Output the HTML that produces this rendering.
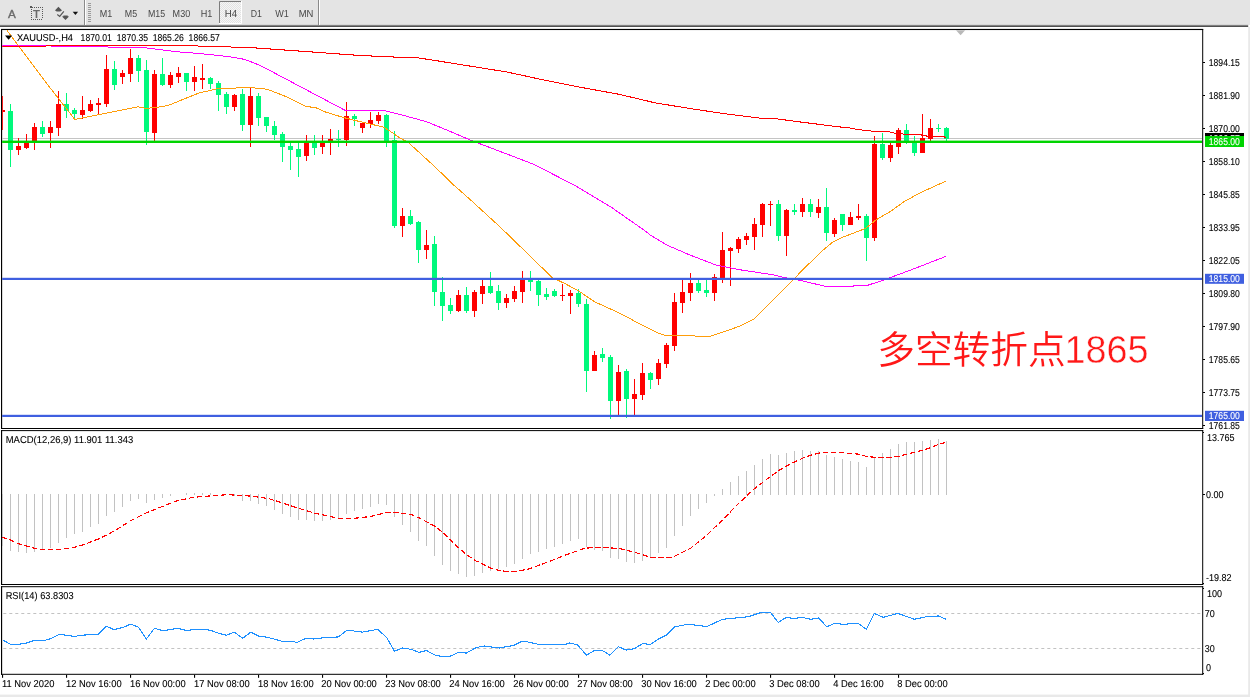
<!DOCTYPE html>
<html lang="zh"><head><meta charset="utf-8"><title>XAUUSD H4</title>
<style>html,body{margin:0;padding:0;background:#fff;overflow:hidden}svg{display:block}text{font-family:"Liberation Sans","Noto Sans CJK SC",sans-serif}.t,.ax,.tb{text-rendering:geometricPrecision}.t{font-size:9.3px;fill:#000;stroke:#000;stroke-width:0.1px}.ax{font-size:9.1px;fill:#000;stroke:#000;stroke-width:0.1px}.tb{font-size:9.6px;fill:#484848}.cn{font-family:"Liberation Sans","Noto Sans CJK SC",sans-serif;fill:#ff1818}</style></head><body>
<svg width="1250" height="697" viewBox="0 0 1250 697">
<rect x="0" y="0" width="1250" height="697" fill="#fff"/>
<defs><linearGradient id="tg" x1="0" y1="0" x2="0" y2="1"><stop offset="0" stop-color="#c4c4c4"/><stop offset="0.5" stop-color="#6a6a6a"/><stop offset="1" stop-color="#3c3c3c"/></linearGradient><clipPath id="cm"><rect x="2.15" y="30" width="1200" height="398"/></clipPath><pattern id="dz" width="2" height="2" patternUnits="userSpaceOnUse"><rect width="2" height="2" fill="#f6f6f6"/><rect width="1" height="1" fill="#e2e2e2"/><rect x="1" y="1" width="1" height="1" fill="#e2e2e2"/></pattern></defs>
<rect x="0" y="0" width="1250" height="25" fill="#e4e4e4"/>
<rect x="0" y="24.6" width="1248.2" height="2.4" fill="url(#tg)"/>
<rect x="1248.2" y="27" width="2" height="670" fill="#e9e9e9"/>
<rect x="0" y="694.6" width="1250" height="3" fill="#e9e9e9"/>
<text x="7.9" y="17.9" style="font-size:11.7px;fill:#6a6a6a;stroke:#6a6a6a;stroke-width:0.35px">A</text>
<g fill="#585858" shape-rendering="crispEdges"><rect x="34" y="7" width="1" height="1"/><rect x="36" y="7" width="1" height="1"/><rect x="38" y="7" width="1" height="1"/><rect x="40" y="7" width="1" height="1"/><rect x="42" y="7" width="1" height="1"/><rect x="31" y="19" width="1" height="1"/><rect x="33" y="19" width="1" height="1"/><rect x="35" y="19" width="1" height="1"/><rect x="37" y="19" width="1" height="1"/><rect x="39" y="19" width="1" height="1"/><rect x="41" y="19" width="1" height="1"/><rect x="31" y="9" width="1" height="1"/><rect x="31" y="11" width="1" height="1"/><rect x="31" y="13" width="1" height="1"/><rect x="31" y="15" width="1" height="1"/><rect x="31" y="17" width="1" height="1"/><rect x="42" y="9" width="1" height="1"/><rect x="42" y="11" width="1" height="1"/><rect x="42" y="13" width="1" height="1"/><rect x="42" y="15" width="1" height="1"/><rect x="42" y="17" width="1" height="1"/><rect x="30" y="6" width="2" height="2"/><rect x="32" y="7" width="1" height="1"/></g>
<text x="33.1" y="17.9" style="font-size:11.4px;font-weight:bold;fill:#6a6a6a">T</text>
<path d="M58.4 6.7 L62.1 10.4 L60.6 10.9 L60.6 11.6 L56.3 11.6 L56.3 10.9 L54.9 10.4 Z" fill="#555"/>
<path d="M63.4 15.4 L67.7 15.4 L67.7 16.2 L69 16.5 L65.5 20.1 L62 16.5 L63.4 16.2 Z" fill="#555"/>
<path d="M57.3 14.5 L59.7 16.4 L63.8 11.4" fill="none" stroke="#555" stroke-width="1.2"/>
<path d="M72.7 11.8 L78.1 11.8 L75.4 15.1 Z" fill="#111"/>
<rect x="84" y="0" width="1" height="25" fill="#8a8a8a"/><rect x="85" y="0" width="1" height="25" fill="#fff"/>
<rect x="88" y="3" width="3" height="1" fill="#9a9a9a"/>
<rect x="88" y="5" width="3" height="1" fill="#9a9a9a"/>
<rect x="88" y="7" width="3" height="1" fill="#9a9a9a"/>
<rect x="88" y="9" width="3" height="1" fill="#9a9a9a"/>
<rect x="88" y="11" width="3" height="1" fill="#9a9a9a"/>
<rect x="88" y="13" width="3" height="1" fill="#9a9a9a"/>
<rect x="88" y="15" width="3" height="1" fill="#9a9a9a"/>
<rect x="88" y="17" width="3" height="1" fill="#9a9a9a"/>
<rect x="88" y="19" width="3" height="1" fill="#9a9a9a"/>
<rect x="88" y="21" width="3" height="1" fill="#9a9a9a"/>
<rect x="219" y="1" width="22" height="22" fill="url(#dz)"/>
<path d="M219.5 23 L219.5 1.5 L241 1.5" fill="none" stroke="#7c7c7c" stroke-width="1"/>
<path d="M241.5 1 L241.5 23.5 L219 23.5" fill="none" stroke="#fff" stroke-width="1"/>
<text class="tb" x="99.70" y="17.20" textLength="12.50" lengthAdjust="spacingAndGlyphs" style="font-size:10.2px;">M1</text>
<text class="tb" x="124.80" y="17.20" textLength="12.30" lengthAdjust="spacingAndGlyphs" style="font-size:10.2px;">M5</text>
<text class="tb" x="148.00" y="17.20" textLength="17.20" lengthAdjust="spacingAndGlyphs" style="font-size:10.2px;">M15</text>
<text class="tb" x="172.60" y="17.20" textLength="17.60" lengthAdjust="spacingAndGlyphs" style="font-size:10.2px;">M30</text>
<text class="tb" x="200.80" y="17.20" textLength="11.60" lengthAdjust="spacingAndGlyphs" style="font-size:10.2px;">H1</text>
<text class="tb" x="224.80" y="17.20" textLength="12.40" lengthAdjust="spacingAndGlyphs" style="font-size:10.2px;">H4</text>
<text class="tb" x="250.80" y="17.20" textLength="11.20" lengthAdjust="spacingAndGlyphs" style="font-size:10.2px;">D1</text>
<text class="tb" x="275.30" y="17.20" textLength="13.60" lengthAdjust="spacingAndGlyphs" style="font-size:10.2px;">W1</text>
<text class="tb" x="298.70" y="17.20" textLength="14.70" lengthAdjust="spacingAndGlyphs" style="font-size:10.2px;">MN</text>
<rect x="318" y="0" width="1" height="25" fill="#8a8a8a"/><rect x="319" y="0" width="1" height="25" fill="#fff"/>
<rect x="1" y="28.9" width="1202.2" height="1.15" fill="#000"/>
<rect x="1" y="428" width="1202.2" height="1" fill="#000"/>
<rect x="1" y="430.1" width="1202.2" height="1" fill="#000"/>
<rect x="1" y="584" width="1202.2" height="1" fill="#000"/>
<rect x="1" y="586.2" width="1202.2" height="1" fill="#000"/>
<rect x="1" y="673.8" width="1202.2" height="1" fill="#000"/>
<rect x="1" y="29" width="1.15" height="400.0" fill="#000"/>
<rect x="1202.2" y="29" width="1" height="400.0" fill="#000"/>
<rect x="1" y="430.1" width="1.15" height="154.9" fill="#000"/>
<rect x="1202.2" y="430.1" width="1" height="154.9" fill="#000"/>
<rect x="1" y="586.2" width="1.15" height="88.6" fill="#000"/>
<rect x="1202.2" y="586.2" width="1" height="88.6" fill="#000"/>
<path d="M956 30.2 L965.2 30.2 L960.6 35.2 Z" fill="#b9b9b9"/>
<g clip-path="url(#cm)">
<rect x="2" y="138" width="1200" height="1" fill="#c4c4c4"/>
<g shape-rendering="crispEdges">
<rect x="2.1" y="96" width="1.1" height="34" fill="#ff0000"/><rect x="3" y="110" width="2.2" height="2" fill="#ff0000"/>
<rect x="10" y="103.8" width="1" height="63.0" fill="#00f97c"/>
<rect x="8" y="111.0" width="5" height="38.7" fill="#00f97c"/>
<rect x="18" y="137.9" width="1" height="16.8" fill="#ff0000"/>
<rect x="16" y="145.8" width="5" height="3.9" fill="#ff0000"/>
<rect x="26" y="134.0" width="1" height="14.8" fill="#ff0000"/>
<rect x="24" y="143.0" width="5" height="4.7" fill="#ff0000"/>
<rect x="34" y="123.1" width="1" height="26.6" fill="#ff0000"/>
<rect x="32" y="127.0" width="5" height="16.0" fill="#ff0000"/>
<rect x="42" y="121.1" width="1" height="15.6" fill="#00f97c"/>
<rect x="40" y="127.0" width="5" height="6.7" fill="#00f97c"/>
<rect x="50" y="121.1" width="1" height="26.9" fill="#ff0000"/>
<rect x="48" y="127.0" width="5" height="5.9" fill="#ff0000"/>
<rect x="58" y="91.2" width="1" height="44.5" fill="#ff0000"/>
<rect x="56" y="103.8" width="5" height="24.0" fill="#ff0000"/>
<rect x="66" y="93.1" width="1" height="24.7" fill="#00f97c"/>
<rect x="64" y="103.8" width="5" height="7.2" fill="#00f97c"/>
<rect x="74" y="108.0" width="1" height="11.4" fill="#00f97c"/>
<rect x="72" y="109.9" width="5" height="4.0" fill="#00f97c"/>
<rect x="82" y="95.9" width="1" height="23.2" fill="#ff0000"/>
<rect x="80" y="109.9" width="5" height="5.0" fill="#ff0000"/>
<rect x="90" y="100.1" width="1" height="11.8" fill="#ff0000"/>
<rect x="88" y="103.8" width="5" height="7.2" fill="#ff0000"/>
<rect x="98" y="98.1" width="1" height="15.8" fill="#ff0000"/>
<rect x="96" y="103.1" width="5" height="1.7" fill="#ff0000"/>
<rect x="106" y="55.1" width="1" height="51.7" fill="#ff0000"/>
<rect x="104" y="69.2" width="5" height="34.6" fill="#ff0000"/>
<rect x="114" y="61.1" width="1" height="28.8" fill="#00f97c"/>
<rect x="112" y="69.2" width="5" height="15.5" fill="#00f97c"/>
<rect x="122" y="70.1" width="1" height="13.4" fill="#ff0000"/>
<rect x="120" y="72.8" width="5" height="4.2" fill="#ff0000"/>
<rect x="130" y="49.1" width="1" height="32.7" fill="#ff0000"/>
<rect x="128" y="58.0" width="5" height="16.0" fill="#ff0000"/>
<rect x="138" y="55.1" width="1" height="26.7" fill="#00f97c"/>
<rect x="136" y="58.0" width="5" height="12.6" fill="#00f97c"/>
<rect x="146" y="59.9" width="1" height="84.7" fill="#00f97c"/>
<rect x="144" y="70.1" width="5" height="61.6" fill="#00f97c"/>
<rect x="154" y="70.1" width="1" height="71.2" fill="#ff0000"/>
<rect x="152" y="74.0" width="5" height="58.9" fill="#ff0000"/>
<rect x="162" y="58.0" width="1" height="27.6" fill="#00f97c"/>
<rect x="160" y="74.0" width="5" height="10.7" fill="#00f97c"/>
<rect x="170" y="71.8" width="1" height="16.0" fill="#ff0000"/>
<rect x="168" y="74.9" width="5" height="9.8" fill="#ff0000"/>
<rect x="178" y="66.8" width="1" height="15.8" fill="#ff0000"/>
<rect x="176" y="72.8" width="5" height="4.2" fill="#ff0000"/>
<rect x="186" y="72.8" width="1" height="17.9" fill="#00f97c"/>
<rect x="184" y="72.8" width="5" height="9.0" fill="#00f97c"/>
<rect x="194" y="65.8" width="1" height="24.9" fill="#ff0000"/>
<rect x="192" y="77.0" width="5" height="4.8" fill="#ff0000"/>
<rect x="202" y="64.0" width="1" height="24.7" fill="#ff0000"/>
<rect x="200" y="78.4" width="5" height="1.2" fill="#ff0000"/>
<rect x="210" y="76.6" width="1" height="12.1" fill="#00f97c"/>
<rect x="208" y="78.3" width="5" height="5.7" fill="#00f97c"/>
<rect x="218" y="80.8" width="1" height="29.8" fill="#00f97c"/>
<rect x="216" y="83.2" width="5" height="11.4" fill="#00f97c"/>
<rect x="226" y="92.1" width="1" height="21.8" fill="#00f97c"/>
<rect x="224" y="94.1" width="5" height="12.6" fill="#00f97c"/>
<rect x="234" y="93.8" width="1" height="16.8" fill="#ff0000"/>
<rect x="232" y="95.1" width="5" height="11.6" fill="#ff0000"/>
<rect x="242" y="88.7" width="1" height="42.0" fill="#00f97c"/>
<rect x="240" y="94.1" width="5" height="30.4" fill="#00f97c"/>
<rect x="250" y="87.5" width="1" height="59.2" fill="#ff0000"/>
<rect x="248" y="96.3" width="5" height="28.2" fill="#ff0000"/>
<rect x="258" y="92.9" width="1" height="32.8" fill="#00f97c"/>
<rect x="256" y="96.3" width="5" height="21.5" fill="#00f97c"/>
<rect x="266" y="117.0" width="1" height="14.9" fill="#00f97c"/>
<rect x="264" y="117.0" width="5" height="8.7" fill="#00f97c"/>
<rect x="274" y="121.2" width="1" height="18.3" fill="#00f97c"/>
<rect x="272" y="126.2" width="5" height="8.4" fill="#00f97c"/>
<rect x="282" y="131.9" width="1" height="29.7" fill="#00f97c"/>
<rect x="280" y="134.1" width="5" height="12.5" fill="#00f97c"/>
<rect x="290" y="142.0" width="1" height="27.5" fill="#00f97c"/>
<rect x="288" y="146.0" width="5" height="4.0" fill="#00f97c"/>
<rect x="298" y="142.5" width="1" height="34.2" fill="#00f97c"/>
<rect x="296" y="149.3" width="5" height="7.3" fill="#00f97c"/>
<rect x="306" y="135.0" width="1" height="25.8" fill="#ff0000"/>
<rect x="304" y="142.7" width="5" height="13.1" fill="#ff0000"/>
<rect x="314" y="135.0" width="1" height="19.6" fill="#00f97c"/>
<rect x="312" y="142.0" width="5" height="5.6" fill="#00f97c"/>
<rect x="322" y="135.0" width="1" height="18.8" fill="#ff0000"/>
<rect x="320" y="142.7" width="5" height="4.1" fill="#ff0000"/>
<rect x="330" y="129.1" width="1" height="25.7" fill="#ff0000"/>
<rect x="328" y="139.0" width="5" height="2.8" fill="#ff0000"/>
<rect x="338" y="130.3" width="1" height="16.5" fill="#00f97c"/>
<rect x="336" y="139.2" width="5" height="1.2" fill="#00f97c"/>
<rect x="346" y="102.2" width="1" height="43.8" fill="#ff0000"/>
<rect x="344" y="116.1" width="5" height="23.9" fill="#ff0000"/>
<rect x="354" y="113.9" width="1" height="11.8" fill="#00f97c"/>
<rect x="352" y="116.1" width="5" height="2.9" fill="#00f97c"/>
<rect x="362" y="122.3" width="1" height="10.4" fill="#ff0000"/>
<rect x="360" y="122.8" width="5" height="4.9" fill="#ff0000"/>
<rect x="370" y="112.2" width="1" height="15.5" fill="#ff0000"/>
<rect x="368" y="120.1" width="5" height="3.9" fill="#ff0000"/>
<rect x="378" y="112.2" width="1" height="11.5" fill="#ff0000"/>
<rect x="376" y="115.1" width="5" height="5.5" fill="#ff0000"/>
<rect x="386" y="113.9" width="1" height="32.9" fill="#00f97c"/>
<rect x="384" y="115.1" width="5" height="25.8" fill="#00f97c"/>
<rect x="394" y="131.1" width="1" height="96.7" fill="#00f97c"/>
<rect x="392" y="140.2" width="5" height="85.7" fill="#00f97c"/>
<rect x="402" y="208.1" width="1" height="28.5" fill="#ff0000"/>
<rect x="400" y="216.1" width="5" height="9.7" fill="#ff0000"/>
<rect x="410" y="210.1" width="1" height="14.7" fill="#00f97c"/>
<rect x="408" y="216.1" width="5" height="7.8" fill="#00f97c"/>
<rect x="418" y="221.0" width="1" height="41.7" fill="#00f97c"/>
<rect x="416" y="221.9" width="5" height="28.5" fill="#00f97c"/>
<rect x="426" y="230.2" width="1" height="28.6" fill="#ff0000"/>
<rect x="424" y="245.0" width="5" height="5.4" fill="#ff0000"/>
<rect x="434" y="236.1" width="1" height="69.9" fill="#00f97c"/>
<rect x="432" y="244.0" width="5" height="48.4" fill="#00f97c"/>
<rect x="442" y="277.0" width="1" height="43.7" fill="#00f97c"/>
<rect x="440" y="292.0" width="5" height="14.0" fill="#00f97c"/>
<rect x="450" y="298.2" width="1" height="15.6" fill="#00f97c"/>
<rect x="448" y="305.0" width="5" height="6.0" fill="#00f97c"/>
<rect x="458" y="290.2" width="1" height="21.6" fill="#ff0000"/>
<rect x="456" y="295.0" width="5" height="16.0" fill="#ff0000"/>
<rect x="466" y="287.0" width="1" height="25.7" fill="#00f97c"/>
<rect x="464" y="295.0" width="5" height="16.0" fill="#00f97c"/>
<rect x="474" y="290.2" width="1" height="26.7" fill="#ff0000"/>
<rect x="472" y="292.0" width="5" height="19.0" fill="#ff0000"/>
<rect x="482" y="280.3" width="1" height="23.5" fill="#ff0000"/>
<rect x="480" y="286.2" width="5" height="7.4" fill="#ff0000"/>
<rect x="490" y="272.2" width="1" height="21.4" fill="#00f97c"/>
<rect x="488" y="286.2" width="5" height="6.6" fill="#00f97c"/>
<rect x="498" y="285.3" width="1" height="24.5" fill="#00f97c"/>
<rect x="496" y="291.0" width="5" height="11.5" fill="#00f97c"/>
<rect x="506" y="294.1" width="1" height="13.4" fill="#ff0000"/>
<rect x="504" y="298.0" width="5" height="4.5" fill="#ff0000"/>
<rect x="514" y="286.2" width="1" height="15.5" fill="#ff0000"/>
<rect x="512" y="291.1" width="5" height="7.5" fill="#ff0000"/>
<rect x="522" y="271.1" width="1" height="31.4" fill="#ff0000"/>
<rect x="520" y="279.8" width="5" height="11.8" fill="#ff0000"/>
<rect x="530" y="271.1" width="1" height="19.6" fill="#00f97c"/>
<rect x="528" y="279.8" width="5" height="2.0" fill="#00f97c"/>
<rect x="538" y="279.8" width="1" height="26.1" fill="#00f97c"/>
<rect x="536" y="281.2" width="5" height="13.4" fill="#00f97c"/>
<rect x="546" y="288.2" width="1" height="11.5" fill="#00f97c"/>
<rect x="544" y="294.1" width="5" height="2.9" fill="#00f97c"/>
<rect x="554" y="289.0" width="1" height="7.9" fill="#00f97c"/>
<rect x="552" y="291.2" width="5" height="4.6" fill="#00f97c"/>
<rect x="562" y="283.5" width="1" height="17.3" fill="#ff0000"/>
<rect x="560" y="295.0" width="5" height="1.2" fill="#ff0000"/>
<rect x="570" y="290.2" width="1" height="23.6" fill="#ff0000"/>
<rect x="568" y="293.1" width="5" height="2.7" fill="#ff0000"/>
<rect x="578" y="289.0" width="1" height="17.8" fill="#00f97c"/>
<rect x="576" y="292.5" width="5" height="11.1" fill="#00f97c"/>
<rect x="586" y="299.1" width="1" height="92.9" fill="#00f97c"/>
<rect x="584" y="304.2" width="5" height="66.3" fill="#00f97c"/>
<rect x="594" y="351.0" width="1" height="19.7" fill="#ff0000"/>
<rect x="592" y="355.1" width="5" height="15.6" fill="#ff0000"/>
<rect x="602" y="348.2" width="1" height="13.6" fill="#00f97c"/>
<rect x="600" y="353.9" width="5" height="3.9" fill="#00f97c"/>
<rect x="610" y="355.0" width="1" height="63.7" fill="#00f97c"/>
<rect x="608" y="357.0" width="5" height="43.8" fill="#00f97c"/>
<rect x="618" y="365.1" width="1" height="50.2" fill="#ff0000"/>
<rect x="616" y="372.0" width="5" height="28.8" fill="#ff0000"/>
<rect x="626" y="368.8" width="1" height="49.0" fill="#00f97c"/>
<rect x="624" y="371.0" width="5" height="27.5" fill="#00f97c"/>
<rect x="634" y="379.2" width="1" height="36.1" fill="#ff0000"/>
<rect x="632" y="394.0" width="5" height="4.5" fill="#ff0000"/>
<rect x="642" y="363.2" width="1" height="36.6" fill="#ff0000"/>
<rect x="640" y="373.0" width="5" height="21.8" fill="#ff0000"/>
<rect x="650" y="372.1" width="1" height="16.8" fill="#00f97c"/>
<rect x="648" y="373.0" width="5" height="6.7" fill="#00f97c"/>
<rect x="658" y="359.2" width="1" height="25.5" fill="#ff0000"/>
<rect x="656" y="363.2" width="5" height="15.6" fill="#ff0000"/>
<rect x="666" y="343.1" width="1" height="24.8" fill="#ff0000"/>
<rect x="664" y="344.9" width="5" height="18.8" fill="#ff0000"/>
<rect x="674" y="293.0" width="1" height="57.9" fill="#ff0000"/>
<rect x="672" y="301.9" width="5" height="43.7" fill="#ff0000"/>
<rect x="682" y="279.0" width="1" height="33.8" fill="#ff0000"/>
<rect x="680" y="292.1" width="5" height="10.6" fill="#ff0000"/>
<rect x="690" y="273.1" width="1" height="27.8" fill="#ff0000"/>
<rect x="688" y="282.9" width="5" height="10.1" fill="#ff0000"/>
<rect x="698" y="279.5" width="1" height="13.5" fill="#00f97c"/>
<rect x="696" y="282.9" width="5" height="8.1" fill="#00f97c"/>
<rect x="706" y="279.5" width="1" height="17.3" fill="#00f97c"/>
<rect x="704" y="290.1" width="5" height="2.9" fill="#00f97c"/>
<rect x="714" y="274.0" width="1" height="26.9" fill="#ff0000"/>
<rect x="712" y="277.0" width="5" height="16.0" fill="#ff0000"/>
<rect x="722" y="232.2" width="1" height="50.6" fill="#ff0000"/>
<rect x="720" y="250.0" width="5" height="29.0" fill="#ff0000"/>
<rect x="730" y="247.0" width="1" height="38.5" fill="#ff0000"/>
<rect x="728" y="248.0" width="5" height="2.8" fill="#ff0000"/>
<rect x="738" y="237.1" width="1" height="15.6" fill="#ff0000"/>
<rect x="736" y="239.0" width="5" height="9.7" fill="#ff0000"/>
<rect x="746" y="233.0" width="1" height="11.8" fill="#ff0000"/>
<rect x="744" y="236.0" width="5" height="3.7" fill="#ff0000"/>
<rect x="754" y="218.2" width="1" height="31.6" fill="#ff0000"/>
<rect x="752" y="224.1" width="5" height="12.6" fill="#ff0000"/>
<rect x="762" y="203.1" width="1" height="33.6" fill="#ff0000"/>
<rect x="760" y="204.1" width="5" height="20.5" fill="#ff0000"/>
<rect x="770" y="201.1" width="1" height="24.7" fill="#ff0000"/>
<rect x="768" y="203.6" width="5" height="1.4" fill="#ff0000"/>
<rect x="778" y="200.2" width="1" height="40.4" fill="#00f97c"/>
<rect x="776" y="204.1" width="5" height="31.4" fill="#00f97c"/>
<rect x="786" y="209.1" width="1" height="46.6" fill="#ff0000"/>
<rect x="784" y="210.0" width="5" height="25.5" fill="#ff0000"/>
<rect x="794" y="204.1" width="1" height="10.8" fill="#00f97c"/>
<rect x="792" y="210.0" width="5" height="1.7" fill="#00f97c"/>
<rect x="802" y="198.1" width="1" height="18.6" fill="#ff0000"/>
<rect x="800" y="204.1" width="5" height="7.6" fill="#ff0000"/>
<rect x="810" y="199.1" width="1" height="17.6" fill="#00f97c"/>
<rect x="808" y="204.1" width="5" height="7.6" fill="#00f97c"/>
<rect x="818" y="199.1" width="1" height="18.8" fill="#ff0000"/>
<rect x="816" y="207.3" width="5" height="5.5" fill="#ff0000"/>
<rect x="826" y="188.1" width="1" height="52.5" fill="#00f97c"/>
<rect x="824" y="207.0" width="5" height="25.7" fill="#00f97c"/>
<rect x="834" y="218.2" width="1" height="18.5" fill="#ff0000"/>
<rect x="832" y="220.1" width="5" height="13.7" fill="#ff0000"/>
<rect x="842" y="214.0" width="1" height="16.8" fill="#00f97c"/>
<rect x="840" y="214.0" width="5" height="10.7" fill="#00f97c"/>
<rect x="850" y="212.0" width="1" height="12.7" fill="#ff0000"/>
<rect x="848" y="217.0" width="5" height="7.7" fill="#ff0000"/>
<rect x="858" y="204.0" width="1" height="16.0" fill="#ff0000"/>
<rect x="856" y="215.9" width="5" height="1.9" fill="#ff0000"/>
<rect x="866" y="214.0" width="1" height="46.6" fill="#00f97c"/>
<rect x="864" y="215.9" width="5" height="21.7" fill="#00f97c"/>
<rect x="874" y="135.8" width="1" height="104.9" fill="#ff0000"/>
<rect x="872" y="144.1" width="5" height="93.5" fill="#ff0000"/>
<rect x="882" y="133.1" width="1" height="26.6" fill="#00f97c"/>
<rect x="880" y="144.1" width="5" height="13.9" fill="#00f97c"/>
<rect x="890" y="143.2" width="1" height="18.7" fill="#ff0000"/>
<rect x="888" y="144.9" width="5" height="12.8" fill="#ff0000"/>
<rect x="898" y="128.1" width="1" height="25.7" fill="#ff0000"/>
<rect x="896" y="129.9" width="5" height="16.8" fill="#ff0000"/>
<rect x="906" y="124.1" width="1" height="19.6" fill="#00f97c"/>
<rect x="904" y="129.9" width="5" height="11.3" fill="#00f97c"/>
<rect x="914" y="135.8" width="1" height="20.0" fill="#00f97c"/>
<rect x="912" y="142.9" width="5" height="9.7" fill="#00f97c"/>
<rect x="922" y="114.0" width="1" height="39.0" fill="#ff0000"/>
<rect x="920" y="138.2" width="5" height="14.8" fill="#ff0000"/>
<rect x="930" y="119.0" width="1" height="21.7" fill="#ff0000"/>
<rect x="928" y="128.1" width="5" height="10.6" fill="#ff0000"/>
<rect x="938" y="124.1" width="1" height="7.5" fill="#00f97c"/>
<rect x="936" y="128.1" width="5" height="1.2" fill="#00f97c"/>
<rect x="946" y="126.9" width="1" height="13.8" fill="#00f97c"/>
<rect x="944" y="128.1" width="5" height="10.6" fill="#00f97c"/>
</g>
<polyline points="2.0,45.5 40.0,45.5 60.0,46.4 95.0,46.9 142.0,47.3 160.8,49.8 177.6,51.8 199.5,53.5 228.0,56.5 244.8,59.4 258.0,64.6 270.0,70.6 346.2,110.9 349.5,110.2 382.3,110.2 400.0,114.5 410.0,117.2 426.5,121.7 448.0,130.5 470.6,140.2 533.8,164.3 576.0,186.1 611.2,207.2 646.4,231.8 650.1,235.0 666.9,245.1 690.4,255.2 715.6,264.9 740.8,269.9 774.4,275.0 784.0,277.5 796.2,279.5 824.8,286.2 853.4,286.4 854.3,285.3 867.7,285.3 883.7,280.0 910.0,270.3 945.8,256.4" fill="none" stroke="#ff00ff" stroke-width="1.0" stroke-linejoin="round" shape-rendering="crispEdges" />
<polyline points="3.0,25.0 6.9,30.2 47.9,85.0 74.8,119.4 137.8,106.8 146.2,108.5 163.0,106.5 169.7,104.8 200.0,92.6 210.0,90.5 216.8,88.7 250.4,87.5 267.2,89.2 287.4,97.1 305.8,106.4 315.9,107.7 326.0,112.2 342.8,117.3 354.6,120.3 368.0,123.5 383.1,127.0 388.2,129.9 400.0,138.0 408.8,142.9 419.4,152.6 436.2,168.0 453.2,184.6 470.7,200.0 501.8,228.6 552.2,277.6 564.8,283.5 578.3,290.7 594.7,301.8 613.2,310.2 630.0,318.6 637.2,322.6 659.0,333.5 665.8,335.5 694.3,335.5 696.0,336.5 709.4,336.5 721.2,332.6 738.0,326.8 748.1,322.1 754.2,319.0 766.0,307.2 796.2,277.0 799.6,272.8 823.1,250.1 833.2,241.7 842.8,237.2 865.5,228.5 876.4,219.6 890.4,211.5 903.8,201.8 920.6,192.6 945.8,181.2" fill="none" stroke="#ff9d0a" stroke-width="1.0" stroke-linejoin="round" shape-rendering="crispEdges" />
<polyline points="2.0,46.5 45.0,46.5 47.0,45.6 197.0,45.6 200.0,46.7 230.0,46.8 233.0,47.7 255.0,47.9 304.0,51.4 360.0,55.5 400.0,57.3 415.0,57.4 435.3,60.5 470.6,66.2 505.9,71.8 541.1,79.4 576.4,86.5 620.0,94.5 655.3,102.9 690.6,108.6 725.9,113.9 761.1,118.3 773.5,118.4 796.4,121.5 840.0,127.0 846.7,127.3 856.8,129.4 871.9,131.1 887.0,131.4 895.4,133.3 903.8,134.1 919.0,134.5 927.4,136.2 942.5,136.5 945.8,137.3" fill="none" stroke="#ff0000" stroke-width="1.05" stroke-linejoin="round" shape-rendering="crispEdges" />
<rect x="2" y="140.6" width="1200" height="2.4" fill="#00d400"/>
<rect x="2" y="277.8" width="1200" height="2.2" fill="#3f5fe0"/>
<rect x="2" y="414.8" width="1200" height="2.2" fill="#3f5fe0"/>
</g>
<text class="cn" x="877.2" y="363.2" style="font-size:37.7px;font-weight:350">多空转折点</text>
<text class="cn" x="1064.6" y="362.9" style="font-size:38.2px;stroke:#fff;stroke-width:0.45px;paint-order:fill stroke" textLength="84" lengthAdjust="spacingAndGlyphs">1865</text>
<path d="M5 35.5 L12.2 35.5 L8.6 39.8 Z" fill="#000"/>
<text class="t" x="16.90" y="41.20" textLength="56.10" lengthAdjust="spacingAndGlyphs" style="font-size:10.0px;">XAUUSD-,H4</text>
<text class="t" x="80.60" y="41.20" textLength="31.20" lengthAdjust="spacingAndGlyphs" style="font-size:10.0px;">1870.01</text>
<text class="t" x="116.80" y="41.20" textLength="31.20" lengthAdjust="spacingAndGlyphs" style="font-size:10.0px;">1870.35</text>
<text class="t" x="152.70" y="41.20" textLength="31.20" lengthAdjust="spacingAndGlyphs" style="font-size:10.0px;">1865.26</text>
<text class="t" x="188.60" y="41.20" textLength="31.20" lengthAdjust="spacingAndGlyphs" style="font-size:10.0px;">1866.57</text>
<rect x="1203" y="62" width="2" height="1" fill="#000"/>
<text class="ax" x="1208.80" y="66.00" textLength="31.10" lengthAdjust="spacingAndGlyphs" style="font-size:10.0px;">1894.15</text>
<rect x="1203" y="95" width="2" height="1" fill="#000"/>
<text class="ax" x="1208.80" y="99.00" textLength="31.10" lengthAdjust="spacingAndGlyphs" style="font-size:10.0px;">1881.90</text>
<rect x="1203" y="128" width="2" height="1" fill="#000"/>
<text class="ax" x="1208.80" y="132.00" textLength="31.10" lengthAdjust="spacingAndGlyphs" style="font-size:10.0px;">1870.00</text>
<rect x="1203" y="161" width="2" height="1" fill="#000"/>
<text class="ax" x="1208.80" y="165.00" textLength="31.10" lengthAdjust="spacingAndGlyphs" style="font-size:10.0px;">1858.10</text>
<rect x="1203" y="194" width="2" height="1" fill="#000"/>
<text class="ax" x="1208.80" y="198.00" textLength="31.10" lengthAdjust="spacingAndGlyphs" style="font-size:10.0px;">1845.85</text>
<rect x="1203" y="227" width="2" height="1" fill="#000"/>
<text class="ax" x="1208.80" y="231.00" textLength="31.10" lengthAdjust="spacingAndGlyphs" style="font-size:10.0px;">1833.95</text>
<rect x="1203" y="260" width="2" height="1" fill="#000"/>
<text class="ax" x="1208.80" y="264.00" textLength="31.10" lengthAdjust="spacingAndGlyphs" style="font-size:10.0px;">1822.05</text>
<rect x="1203" y="293" width="2" height="1" fill="#000"/>
<text class="ax" x="1208.80" y="297.00" textLength="31.10" lengthAdjust="spacingAndGlyphs" style="font-size:10.0px;">1809.80</text>
<rect x="1203" y="326" width="2" height="1" fill="#000"/>
<text class="ax" x="1208.80" y="330.00" textLength="31.10" lengthAdjust="spacingAndGlyphs" style="font-size:10.0px;">1797.90</text>
<rect x="1203" y="359" width="2" height="1" fill="#000"/>
<text class="ax" x="1208.80" y="363.00" textLength="31.10" lengthAdjust="spacingAndGlyphs" style="font-size:10.0px;">1785.65</text>
<rect x="1203" y="392" width="2" height="1" fill="#000"/>
<text class="ax" x="1208.80" y="396.00" textLength="31.10" lengthAdjust="spacingAndGlyphs" style="font-size:10.0px;">1773.75</text>
<rect x="1203" y="425" width="2" height="1" fill="#000"/>
<text class="ax" x="1208.80" y="429.00" textLength="31.10" lengthAdjust="spacingAndGlyphs" style="font-size:10.0px;">1761.85</text>
<rect x="1205" y="133" width="39" height="11" fill="#000"/>
<text class="ax" x="1208.80" y="142.00" textLength="31.10" lengthAdjust="spacingAndGlyphs" style="font-size:10.0px;fill:#fff;stroke:#fff">1866.57</text>
<rect x="1205" y="136" width="39" height="11" fill="#00d400"/>
<text class="ax" x="1208.80" y="144.90" textLength="31.10" lengthAdjust="spacingAndGlyphs" style="font-size:10.0px;fill:#fff;stroke:#fff">1865.00</text>
<rect x="1205" y="273.8" width="39" height="10" fill="#3f5fe0"/>
<text class="ax" x="1208.80" y="282.20" textLength="31.10" lengthAdjust="spacingAndGlyphs" style="font-size:10.0px;fill:#fff;stroke:#fff">1815.00</text>
<rect x="1205" y="410.8" width="39" height="10.2" fill="#3f5fe0"/>
<text class="ax" x="1208.80" y="419.20" textLength="31.10" lengthAdjust="spacingAndGlyphs" style="font-size:10.0px;fill:#fff;stroke:#fff">1765.00</text>
<g shape-rendering="crispEdges">
<rect x="2.15" y="494.0" width="1" height="51.6" fill="#c2c2c2"/>
<rect x="10" y="494.0" width="1" height="56.8" fill="#c2c2c2"/>
<rect x="18" y="494.0" width="1" height="58.3" fill="#c2c2c2"/>
<rect x="26" y="494.0" width="1" height="59.4" fill="#c2c2c2"/>
<rect x="34" y="494.0" width="1" height="57.7" fill="#c2c2c2"/>
<rect x="42" y="494.0" width="1" height="56.1" fill="#c2c2c2"/>
<rect x="50" y="494.0" width="1" height="53.8" fill="#c2c2c2"/>
<rect x="58" y="494.0" width="1" height="48.7" fill="#c2c2c2"/>
<rect x="66" y="494.0" width="1" height="43.8" fill="#c2c2c2"/>
<rect x="74" y="494.0" width="1" height="40.4" fill="#c2c2c2"/>
<rect x="82" y="494.0" width="1" height="37.5" fill="#c2c2c2"/>
<rect x="90" y="494.0" width="1" height="33.2" fill="#c2c2c2"/>
<rect x="98" y="494.0" width="1" height="29.7" fill="#c2c2c2"/>
<rect x="106" y="494.0" width="1" height="21.8" fill="#c2c2c2"/>
<rect x="114" y="494.0" width="1" height="18.0" fill="#c2c2c2"/>
<rect x="122" y="494.0" width="1" height="12.9" fill="#c2c2c2"/>
<rect x="130" y="494.0" width="1" height="6.8" fill="#c2c2c2"/>
<rect x="138" y="494.0" width="1" height="5.2" fill="#c2c2c2"/>
<rect x="146" y="494.0" width="1" height="9.0" fill="#c2c2c2"/>
<rect x="154" y="494.0" width="1" height="6.1" fill="#c2c2c2"/>
<rect x="162" y="494.0" width="1" height="3.9" fill="#c2c2c2"/>
<rect x="170" y="494.0" width="1" height="1.9" fill="#c2c2c2"/>
<rect x="186" y="493.0" width="1" height="2.0" fill="#c2c2c2"/>
<rect x="194" y="492.5" width="1" height="2.5" fill="#c2c2c2"/>
<rect x="202" y="492.5" width="1" height="2.5" fill="#c2c2c2"/>
<rect x="210" y="493.0" width="1" height="2.0" fill="#c2c2c2"/>
<rect x="234" y="494.0" width="1" height="2.3" fill="#c2c2c2"/>
<rect x="242" y="494.0" width="1" height="6.8" fill="#c2c2c2"/>
<rect x="250" y="494.0" width="1" height="6.8" fill="#c2c2c2"/>
<rect x="258" y="494.0" width="1" height="9.7" fill="#c2c2c2"/>
<rect x="266" y="494.0" width="1" height="12.0" fill="#c2c2c2"/>
<rect x="274" y="494.0" width="1" height="15.8" fill="#c2c2c2"/>
<rect x="282" y="494.0" width="1" height="19.6" fill="#c2c2c2"/>
<rect x="290" y="494.0" width="1" height="22.9" fill="#c2c2c2"/>
<rect x="298" y="494.0" width="1" height="25.8" fill="#c2c2c2"/>
<rect x="306" y="494.0" width="1" height="25.8" fill="#c2c2c2"/>
<rect x="314" y="494.0" width="1" height="27.0" fill="#c2c2c2"/>
<rect x="322" y="494.0" width="1" height="27.0" fill="#c2c2c2"/>
<rect x="330" y="494.0" width="1" height="25.8" fill="#c2c2c2"/>
<rect x="338" y="494.0" width="1" height="24.7" fill="#c2c2c2"/>
<rect x="346" y="494.0" width="1" height="19.6" fill="#c2c2c2"/>
<rect x="354" y="494.0" width="1" height="16.9" fill="#c2c2c2"/>
<rect x="362" y="494.0" width="1" height="14.6" fill="#c2c2c2"/>
<rect x="370" y="494.0" width="1" height="12.9" fill="#c2c2c2"/>
<rect x="378" y="494.0" width="1" height="9.7" fill="#c2c2c2"/>
<rect x="386" y="494.0" width="1" height="10.6" fill="#c2c2c2"/>
<rect x="394" y="494.0" width="1" height="22.9" fill="#c2c2c2"/>
<rect x="402" y="494.0" width="1" height="30.8" fill="#c2c2c2"/>
<rect x="410" y="494.0" width="1" height="37.7" fill="#c2c2c2"/>
<rect x="418" y="494.0" width="1" height="46.7" fill="#c2c2c2"/>
<rect x="426" y="494.0" width="1" height="51.6" fill="#c2c2c2"/>
<rect x="434" y="494.0" width="1" height="61.7" fill="#c2c2c2"/>
<rect x="442" y="494.0" width="1" height="70.6" fill="#c2c2c2"/>
<rect x="450" y="494.0" width="1" height="76.7" fill="#c2c2c2"/>
<rect x="458" y="494.0" width="1" height="79.6" fill="#c2c2c2"/>
<rect x="466" y="494.0" width="1" height="82.5" fill="#c2c2c2"/>
<rect x="474" y="494.0" width="1" height="81.9" fill="#c2c2c2"/>
<rect x="482" y="494.0" width="1" height="78.5" fill="#c2c2c2"/>
<rect x="490" y="494.0" width="1" height="76.7" fill="#c2c2c2"/>
<rect x="498" y="494.0" width="1" height="75.1" fill="#c2c2c2"/>
<rect x="506" y="494.0" width="1" height="72.9" fill="#c2c2c2"/>
<rect x="514" y="494.0" width="1" height="69.5" fill="#c2c2c2"/>
<rect x="522" y="494.0" width="1" height="64.6" fill="#c2c2c2"/>
<rect x="530" y="494.0" width="1" height="59.9" fill="#c2c2c2"/>
<rect x="538" y="494.0" width="1" height="57.7" fill="#c2c2c2"/>
<rect x="546" y="494.0" width="1" height="55.0" fill="#c2c2c2"/>
<rect x="554" y="494.0" width="1" height="52.7" fill="#c2c2c2"/>
<rect x="562" y="494.0" width="1" height="50.0" fill="#c2c2c2"/>
<rect x="570" y="494.0" width="1" height="46.7" fill="#c2c2c2"/>
<rect x="578" y="494.0" width="1" height="44.9" fill="#c2c2c2"/>
<rect x="586" y="494.0" width="1" height="52.7" fill="#c2c2c2"/>
<rect x="594" y="494.0" width="1" height="56.1" fill="#c2c2c2"/>
<rect x="602" y="494.0" width="1" height="56.8" fill="#c2c2c2"/>
<rect x="610" y="494.0" width="1" height="63.9" fill="#c2c2c2"/>
<rect x="618" y="494.0" width="1" height="65.0" fill="#c2c2c2"/>
<rect x="626" y="494.0" width="1" height="67.7" fill="#c2c2c2"/>
<rect x="634" y="494.0" width="1" height="68.9" fill="#c2c2c2"/>
<rect x="642" y="494.0" width="1" height="66.8" fill="#c2c2c2"/>
<rect x="650" y="494.0" width="1" height="62.8" fill="#c2c2c2"/>
<rect x="658" y="494.0" width="1" height="59.4" fill="#c2c2c2"/>
<rect x="666" y="494.0" width="1" height="53.8" fill="#c2c2c2"/>
<rect x="674" y="494.0" width="1" height="41.5" fill="#c2c2c2"/>
<rect x="682" y="494.0" width="1" height="31.9" fill="#c2c2c2"/>
<rect x="690" y="494.0" width="1" height="21.8" fill="#c2c2c2"/>
<rect x="698" y="494.0" width="1" height="14.6" fill="#c2c2c2"/>
<rect x="706" y="494.0" width="1" height="9.0" fill="#c2c2c2"/>
<rect x="714" y="494.0" width="1" height="2.3" fill="#c2c2c2"/>
<rect x="722" y="488.9" width="1" height="6.1" fill="#c2c2c2"/>
<rect x="730" y="481.8" width="1" height="13.2" fill="#c2c2c2"/>
<rect x="738" y="475.7" width="1" height="19.3" fill="#c2c2c2"/>
<rect x="746" y="471.0" width="1" height="24.0" fill="#c2c2c2"/>
<rect x="754" y="465.0" width="1" height="30.0" fill="#c2c2c2"/>
<rect x="762" y="458.9" width="1" height="36.1" fill="#c2c2c2"/>
<rect x="770" y="453.8" width="1" height="41.2" fill="#c2c2c2"/>
<rect x="778" y="454.9" width="1" height="40.1" fill="#c2c2c2"/>
<rect x="786" y="452.6" width="1" height="42.4" fill="#c2c2c2"/>
<rect x="794" y="450.8" width="1" height="44.2" fill="#c2c2c2"/>
<rect x="802" y="450.0" width="1" height="45.0" fill="#c2c2c2"/>
<rect x="810" y="450.8" width="1" height="44.2" fill="#c2c2c2"/>
<rect x="818" y="450.8" width="1" height="44.2" fill="#c2c2c2"/>
<rect x="826" y="454.9" width="1" height="40.1" fill="#c2c2c2"/>
<rect x="834" y="457.1" width="1" height="37.9" fill="#c2c2c2"/>
<rect x="842" y="458.9" width="1" height="36.1" fill="#c2c2c2"/>
<rect x="850" y="460.9" width="1" height="34.1" fill="#c2c2c2"/>
<rect x="858" y="462.0" width="1" height="33.0" fill="#c2c2c2"/>
<rect x="866" y="466.8" width="1" height="28.2" fill="#c2c2c2"/>
<rect x="874" y="457.8" width="1" height="37.2" fill="#c2c2c2"/>
<rect x="882" y="452.6" width="1" height="42.4" fill="#c2c2c2"/>
<rect x="890" y="448.8" width="1" height="46.2" fill="#c2c2c2"/>
<rect x="898" y="443.7" width="1" height="51.3" fill="#c2c2c2"/>
<rect x="906" y="441.9" width="1" height="53.1" fill="#c2c2c2"/>
<rect x="914" y="441.9" width="1" height="53.1" fill="#c2c2c2"/>
<rect x="922" y="441.0" width="1" height="54.0" fill="#c2c2c2"/>
<rect x="930" y="439.9" width="1" height="55.1" fill="#c2c2c2"/>
<rect x="938" y="438.8" width="1" height="56.2" fill="#c2c2c2"/>
<rect x="946" y="441.0" width="1" height="54.0" fill="#c2c2c2"/>
</g>
<polyline points="2.2,537.1 10.5,540.0 18.6,543.8 26.4,546.0 34.7,548.3 42.6,549.4 58.2,549.4 73.9,547.4 82.9,544.9 98.6,538.9 114.2,531.0 130.0,521.0 145.6,513.1 161.3,506.9 177.0,500.8 192.7,497.4 210.6,495.9 226.3,494.8 242.0,495.2 257.6,497.0 268.8,498.6 282.5,503.0 298.5,508.2 314.4,513.1 330.5,516.5 338.5,518.3 354.5,518.3 370.6,516.5 386.5,512.5 394.6,512.5 410.5,514.2 418.5,517.6 434.4,525.9 442.5,532.2 458.6,547.8 466.5,554.6 474.5,560.2 490.7,568.0 498.5,570.2 506.6,571.4 514.6,571.4 522.5,570.2 530.5,568.5 538.6,565.3 548.9,561.7 562.4,556.1 584.8,548.3 594.4,547.4 618.4,548.3 634.5,552.3 642.6,554.6 650.4,557.3 669.9,557.3 674.4,556.4 690.5,548.3 706.4,535.5 722.6,519.8 738.5,503.5 754.6,488.5 770.5,476.5 778.6,470.6 786.4,466.1 794.5,462.1 802.6,458.2 810.4,455.3 818.5,453.1 834.6,452.2 850.5,453.3 858.6,454.2 866.4,456.4 874.5,457.3 890.6,457.3 898.4,456.4 906.5,454.2 914.6,452.2 922.4,450.4 930.5,447.7 938.5,444.4 946.6,442.1" fill="none" stroke="#ff0000" stroke-width="1.15" stroke-linejoin="round" shape-rendering="crispEdges" stroke-dasharray="5.4 2.6" stroke-dashoffset="0.4"/>
<text class="t" x="5.70" y="442.60" textLength="127.60" lengthAdjust="spacingAndGlyphs" style="font-size:10.0px;">MACD(12,26,9) 11.901 11.343</text>
<rect x="1203" y="432.0" width="1" height="1" fill="#000"/>
<text class="t" x="1206.90" y="440.90" textLength="27.53" lengthAdjust="spacingAndGlyphs" style="font-size:10.0px;">13.765</text>
<rect x="1203" y="494.0" width="2" height="1" fill="#000"/>
<text class="t" x="1206.00" y="498.10" textLength="17.52" lengthAdjust="spacingAndGlyphs" style="font-size:10.0px;">0.00</text>
<rect x="1203" y="583.0" width="1" height="1" fill="#000"/>
<text class="t" x="1205.90" y="580.80" textLength="25.52" lengthAdjust="spacingAndGlyphs" style="font-size:10.0px;">-19.82</text>
<path d="M2 613.5 H1202 M2 648.5 H1202" stroke="#c2c2c2" stroke-width="1" stroke-dasharray="3 3" stroke-dashoffset="-1.3" fill="none"/>
<polyline points="2.6,639.8 10.2,644.2 19.2,644.2 26.9,642.9 34.6,640.3 44.8,640.3 51.2,638.5 58.9,634.4 66.6,635.2 74.2,636.5 81.9,635.2 98.6,634.2 106.2,626.2 113.9,629.6 122.9,627.5 130.6,624.2 138.2,627.0 146.4,639.0 154.4,628.3 162.6,630.6 170.2,629.6 177.9,628.3 186.9,630.6 194.6,629.3 204.8,629.3 211.2,630.6 218.9,633.4 226.6,635.2 234.2,632.1 242.7,638.3 250.9,632.1 258.6,636.0 267.5,637.3 281.6,641.1 291.8,641.3 297.0,642.4 305.9,638.3 313.6,639.0 326.6,637.3 338.2,637.0 347.1,630.1 362.5,632.1 377.8,629.3 386.8,637.8 394.5,651.3 402.2,648.0 411.1,649.3 418.8,652.4 426.5,650.6 435.4,655.2 441.8,656.5 449.5,656.5 458.5,652.4 466.2,653.1 476.4,647.5 484.1,646.0 499.4,648.0 513.5,645.4 522.5,641.1 530.2,642.4 537.8,644.2 566.0,644.2 569.8,642.9 577.5,644.9 586.5,655.2 594.2,650.6 601.8,650.1 610.0,655.2 618.5,646.7 626.2,650.1 634.1,648.8 643.0,643.4 650.2,644.7 658.4,639.0 666.1,635.2 675.0,626.8 687.8,624.2 707.0,626.5 722.4,619.3 748.0,616.8 762.1,612.2 770.3,612.2 778.2,622.4 786.4,617.3 794.1,618.6 801.8,617.3 810.7,619.3 818.4,618.0 826.9,626.8 835.0,623.2 842.7,624.4 858.1,623.2 866.3,629.3 874.2,613.4 883.2,617.3 897.8,613.4 914.4,619.3 927.2,616.5 938.9,616.0 946.0,619.3" fill="none" stroke="#1e90ff" stroke-width="1.1" stroke-linejoin="round" shape-rendering="crispEdges" />
<text class="t" x="5.70" y="598.70" textLength="67.90" lengthAdjust="spacingAndGlyphs" style="font-size:10.0px;">RSI(14) 63.8303</text>
<text class="t" x="1206.90" y="597.00" textLength="15.02" lengthAdjust="spacingAndGlyphs" style="font-size:10.0px;">100</text>
<text class="t" x="1204.80" y="617.30" textLength="10.01" lengthAdjust="spacingAndGlyphs" style="font-size:10.0px;">70</text>
<text class="t" x="1204.80" y="652.10" textLength="10.01" lengthAdjust="spacingAndGlyphs" style="font-size:10.0px;">30</text>
<text class="t" x="1205.90" y="671.00" textLength="5.01" lengthAdjust="spacingAndGlyphs" style="font-size:10.0px;">0</text>
<rect x="1203" y="588" width="1" height="1" fill="#000"/><rect x="1203" y="673" width="1" height="1" fill="#000"/>
<rect x="2" y="674.8" width="1.1" height="3" fill="#000"/>
<text class="t" x="2.00" y="687.00" textLength="52.33" lengthAdjust="spacingAndGlyphs" style="font-size:10.0px;">11 Nov 2020</text>
<rect x="66" y="674.8" width="1.1" height="3" fill="#000"/>
<text class="t" x="66.00" y="687.00" textLength="55.62" lengthAdjust="spacingAndGlyphs" style="font-size:10.0px;">12 Nov 16:00</text>
<rect x="130" y="674.8" width="1.1" height="3" fill="#000"/>
<text class="t" x="130.00" y="687.00" textLength="55.62" lengthAdjust="spacingAndGlyphs" style="font-size:10.0px;">16 Nov 00:00</text>
<rect x="194" y="674.8" width="1.1" height="3" fill="#000"/>
<text class="t" x="194.00" y="687.00" textLength="55.62" lengthAdjust="spacingAndGlyphs" style="font-size:10.0px;">17 Nov 08:00</text>
<rect x="258" y="674.8" width="1.1" height="3" fill="#000"/>
<text class="t" x="258.00" y="687.00" textLength="55.62" lengthAdjust="spacingAndGlyphs" style="font-size:10.0px;">18 Nov 16:00</text>
<rect x="322" y="674.8" width="1.1" height="3" fill="#000"/>
<text class="t" x="321.20" y="687.00" textLength="55.62" lengthAdjust="spacingAndGlyphs" style="font-size:10.0px;">20 Nov 00:00</text>
<rect x="386" y="674.8" width="1.1" height="3" fill="#000"/>
<text class="t" x="385.20" y="687.00" textLength="55.62" lengthAdjust="spacingAndGlyphs" style="font-size:10.0px;">23 Nov 08:00</text>
<rect x="450" y="674.8" width="1.1" height="3" fill="#000"/>
<text class="t" x="449.20" y="687.00" textLength="55.62" lengthAdjust="spacingAndGlyphs" style="font-size:10.0px;">24 Nov 16:00</text>
<rect x="514" y="674.8" width="1.1" height="3" fill="#000"/>
<text class="t" x="513.20" y="687.00" textLength="55.62" lengthAdjust="spacingAndGlyphs" style="font-size:10.0px;">26 Nov 00:00</text>
<rect x="578" y="674.8" width="1.1" height="3" fill="#000"/>
<text class="t" x="577.20" y="687.00" textLength="55.62" lengthAdjust="spacingAndGlyphs" style="font-size:10.0px;">27 Nov 08:00</text>
<rect x="642" y="674.8" width="1.1" height="3" fill="#000"/>
<text class="t" x="641.20" y="687.00" textLength="55.62" lengthAdjust="spacingAndGlyphs" style="font-size:10.0px;">30 Nov 16:00</text>
<rect x="706" y="674.8" width="1.1" height="3" fill="#000"/>
<text class="t" x="705.20" y="687.00" textLength="50.42" lengthAdjust="spacingAndGlyphs" style="font-size:10.0px;">2 Dec 00:00</text>
<rect x="770" y="674.8" width="1.1" height="3" fill="#000"/>
<text class="t" x="769.20" y="687.00" textLength="50.42" lengthAdjust="spacingAndGlyphs" style="font-size:10.0px;">3 Dec 08:00</text>
<rect x="834" y="674.8" width="1.1" height="3" fill="#000"/>
<text class="t" x="833.20" y="687.00" textLength="50.42" lengthAdjust="spacingAndGlyphs" style="font-size:10.0px;">4 Dec 16:00</text>
<rect x="898" y="674.8" width="1.1" height="3" fill="#000"/>
<text class="t" x="897.20" y="687.00" textLength="50.42" lengthAdjust="spacingAndGlyphs" style="font-size:10.0px;">8 Dec 00:00</text>
</svg></body></html>
